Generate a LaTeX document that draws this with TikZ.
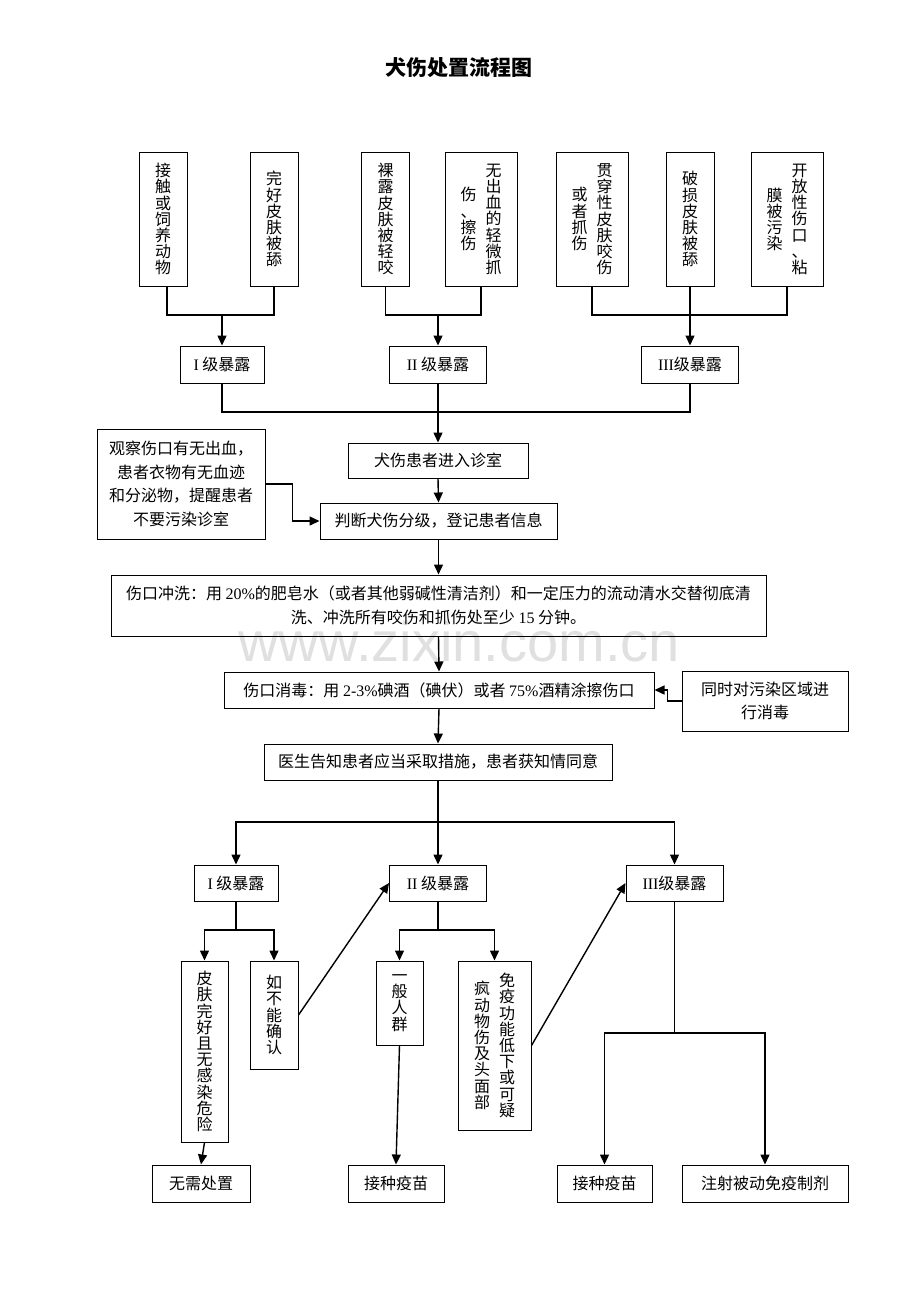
\documentclass[tikz,border=0pt]{standalone}
\usepackage{fontspec}
\setmainfont{Liberation Serif}
\newfontfamily\cjk{Noto Sans CJK SC}
\newfontfamily\wmfont{Liberation Sans}
\usetikzlibrary{arrows.meta}
\newcommand\latn[1]{{\rmfamily #1}}
\begin{document}
\begin{tikzpicture}[x=1pt,y=-1pt,
  box/.style={draw, line width=1pt, inner sep=0pt, align=center, font=\cjk\fontsize{16}{23.5}\selectfont},
  vt/.style={inner sep=0pt, align=center, font=\cjk\fontsize{16}{16.2}\selectfont},
  ln/.style={line width=1.4pt},
  arr/.style={ln, -{Triangle[length=10pt,width=9pt]}}]
\fill[white] (0,0) rectangle (920,1302);
\useasboundingbox (0,0) rectangle (920,1302);

% watermark
\node[text=black!12, font=\wmfont\fontsize{56}{56}\selectfont, inner sep=0pt] (wm) at (459,641) {www.zixin.com.cn};

% title
\node[font=\cjk\bfseries\fontsize{21}{21}\selectfont, inner sep=0pt] (title) at (459,68) {犬伤处置流程图};

% top boxes
\node[box, minimum width=48, minimum height=133.5] (B1) at (163,219.25) {};
\node[box, minimum width=48, minimum height=133.5] (B2) at (274,219.25) {};
\node[box, minimum width=48, minimum height=133.5] (B3) at (385.5,219.25) {};
\node[box, minimum width=72, minimum height=133.5] (B4) at (481,219.25) {};
\node[box, minimum width=72, minimum height=133.5] (B5) at (592,219.25) {};
\node[box, minimum width=48, minimum height=133.5] (B6) at (690,219.25) {};
\node[box, minimum width=72, minimum height=133.5] (B7) at (787,219.25) {};

\node[vt] (t1) at (B1.center) {接\\触\\或\\饲\\养\\动\\物};
\node[vt] (t2) at (B2.center) {完\\好\\皮\\肤\\被\\舔};
\node[vt] (t3) at (B3.center) {裸\\露\\皮\\肤\\被\\轻\\咬};
\node[vt] (t4a) at ([xshift=12.5pt]B4.center) {无\\出\\血\\的\\轻\\微\\抓};
\node[vt] (t4b) at ([xshift=-12.5pt]B4.center) {伤\\、\\擦\\伤};
\node[vt] (t5a) at ([xshift=12.5pt]B5.center) {贯\\穿\\性\\皮\\肤\\咬\\伤};
\node[vt] (t5b) at ([xshift=-12.5pt]B5.center) {或\\者\\抓\\伤};
\node[vt] (t6) at (B6.center) {破\\损\\皮\\肤\\被\\舔};
\node[vt] (t7a) at ([xshift=12.5pt]B7.center) {开\\放\\性\\伤\\口\\、\\粘};
\node[vt] (t7b) at ([xshift=-12.5pt]B7.center) {膜\\被\\污\\染};

% exposure level boxes (upper)
\node[box, minimum width=84, minimum height=37] (E1) at (222,364.5) {\latn{I} 级暴露};
\node[box, minimum width=97, minimum height=37] (E2) at (438,364.5) {\latn{II} 级暴露};
\node[box, minimum width=97, minimum height=37] (E3) at (690,364.5) {\latn{III}级暴露};

\coordinate (j1) at (222,315);
\coordinate (j2) at (438,315);
\coordinate (j3) at (690,315);
\draw[ln] ([xshift=4pt]B1.south) |- (j1) -| (B2.south);
\draw[arr] (j1) -- (E1.north);
\draw[ln] (B3.south) |- (j2) -| (B4.south);
\draw[arr] (j2) -- (E2.north);
\draw[ln] (B5.south) |- (j3) -| (B7.south);
\draw[ln] (B6.south) -- (j3);
\draw[arr] (j3) -- (E3.north);

% main chain
\node[box, minimum width=180, minimum height=35] (C1) at (438,460.5) {犬伤患者进入诊室};
\node[box, minimum width=237, minimum height=36] (C2) at (438.5,521) {判断犬伤分级，登记患者信息};
\node[box, minimum width=168, minimum height=110] (L1) at (181,484) {观察伤口有无出血，\\患者衣物有无血迹\\和分泌物，提醒患者\\不要污染诊室};
\node[box, minimum width=655, minimum height=61] (C3) at (438.5,605.5) {伤口冲洗：用 \latn{20\%}的肥皂水（或者其他弱碱性清洁剂）和一定压力的流动清水交替彻底清\\洗、冲洗所有咬伤和抓伤处至少 \latn{15} 分钟。};
\node[box, minimum width=430, minimum height=36] (C4) at (439,690) {伤口消毒：用 \latn{2-3\%}碘酒（碘伏）或者 \latn{75\%}酒精涂擦伤口};
\node[box, minimum width=166, minimum height=60] (R1) at (765,701) {同时对污染区域进\\行消毒};
\node[box, minimum width=348, minimum height=36] (C5) at (438,762) {医生告知患者应当采取措施，患者获知情同意};

\coordinate (k) at (438,412);
\draw[ln] (E1.south) |- (k) -| (E3.south);
\draw[arr] (E2.south) -- (C1.north);
\draw[arr] (C1.south) -- (C2.north);
\draw[arr] (L1.east) -- ++(27,0) |- (C2.west);
\draw[arr] (C2.south) -- (C3.north);
\draw[arr] (C3.south) -- (C4.north);
\draw[arr] (R1.west) -- ++(-14,0) |- (C4.east);
\draw[arr] (C4.south) -- (C5.north);

% lower exposure boxes
\node[box, minimum width=84, minimum height=36] (D1) at (236,883) {\latn{I} 级暴露};
\node[box, minimum width=97, minimum height=36] (D2) at (438,883) {\latn{II} 级暴露};
\node[box, minimum width=97, minimum height=36] (D3) at (674.5,883) {\latn{III}级暴露};

\coordinate (m) at (438,822);
\draw[ln] (C5.south) -- (m);
\draw[arr] (m) -| (D1.north);
\draw[arr] (m) -| (D3.north);
\draw[arr] (m) -- (D2.north);

% second level boxes
\node[box, minimum width=47, minimum height=181] (F1) at (204.5,1051.5) {};
\node[vt] (f1) at (F1.center) {皮\\肤\\完\\好\\且\\无\\感\\染\\危\\险};
\node[box, minimum width=48, minimum height=108] (F2) at (274,1015) {};
\node[vt] (f2) at (F2.center) {如\\不\\能\\确\\认};
\node[box, minimum width=47, minimum height=84] (F3) at (399.5,1003) {};
\node[vt] (f3) at (F3.center) {一\\般\\人\\群};
\node[box, minimum width=73, minimum height=169] (F4) at (494.5,1045.5) {};
\node[vt] (f4a) at ([xshift=12.5pt]F4.center) {免\\疫\\功\\能\\低\\下\\或\\可\\疑};
\node[vt] (f4b) at ([xshift=-12.5pt]F4.center) {疯\\动\\物\\伤\\及\\头\\面\\部};

\coordinate (n1) at (236,930);
\coordinate (n2) at (438,930);
\coordinate (n3) at (674.5,1033);
\draw[ln] (D1.south) -- (n1);
\draw[arr] (n1) -| (F1.north);
\draw[arr] (n1) -| (F2.north);
\draw[ln] (D2.south) -- (n2);
\draw[arr] (n2) -| (F3.north);
\draw[arr] (n2) -| (F4.north);
\draw[ln] (D3.south) -- (n3);

\draw[arr] (F2.east) -- (D2.west);
\draw[arr] (F4.east) -- (D3.west);

% bottom boxes
\node[box, minimum width=98, minimum height=37] (G1) at (201,1183.5) {无需处置};
\node[box, minimum width=96, minimum height=37] (G2) at (396,1183.5) {接种疫苗};
\node[box, minimum width=95, minimum height=37] (G3) at (604.5,1183.5) {接种疫苗};
\node[box, minimum width=166, minimum height=37] (G4) at (765,1183.5) {注射被动免疫制剂};

\draw[arr] (F1.south) -- (G1.north);
\draw[arr] (F3.south) -- (G2.north);
\draw[arr] (n3) -| (G3.north);
\draw[arr] (n3) -| (G4.north);
\end{tikzpicture}
\end{document}
